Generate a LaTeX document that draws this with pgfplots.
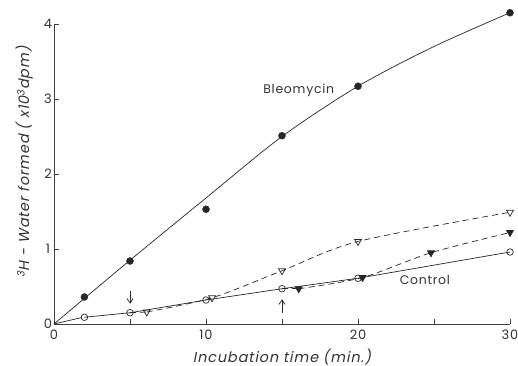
\documentclass[border=0pt]{standalone}
\usepackage{pgfplots}
\pgfplotsset{compat=1.18}
\usepackage{fontspec}
\setmainfont{Poppins}[AutoFakeSlant=0.2]
\newfontfamily\lsfont{Poppins}[LetterSpace=6, AutoFakeSlant=0.2]
\usetikzlibrary{calc,arrows.meta}
\begin{document}
\begin{tikzpicture}
\begin{axis}[name=ax, scale only axis, width=456bp, height=300bp,
  xmin=0, xmax=30, ymin=0, ymax=4,
  axis x line*=bottom, axis y line*=left,
  axis line style={black!75, line width=0.7bp},
  xtick={0,10,20,30}, minor xtick={5,15,25},
  ytick={0,1,2,3,4},
  tick align=inside, major tick length=5bp, minor tick length=5bp,
  tick style={black!75, line width=0.6bp},
  clip=false,
  /pgf/number format/assume math mode=true,
  tick label style={font=\lsfont\fontsize{13}{13}\selectfont, text=black!80},
  xticklabel style={anchor=center, yshift=-11bp},
  yticklabel style={anchor=center, xshift=-6bp},
  xlabel={\itshape Incubation time (min.)},
  ylabel={\itshape \textsuperscript{3}H - Water formed ( x10\textsuperscript{3}dpm)},
  label style={font=\lsfont\fontsize{14.5}{14.5}\selectfont, text=black!80},
  xlabel style={at={(rel axis cs:0.5,0)}, anchor=center, yshift=-33bp},
  ylabel style={at={(rel axis cs:0,0.54)}, anchor=center, yshift=29bp},
]
% Bleomycin curve and points
\addplot[black!85, line width=0.7bp, smooth, no marks] coordinates {
  (0,0) (5,0.85) (10,1.68) (15,2.5) (20,3.17) (25,3.70) (30,4.15)};
\addplot[only marks, mark=*, mark size=3.5bp, black!85] coordinates {
  (2,0.36) (5,0.84) (10,1.53) (15,2.51) (20,3.17) (30,4.15)};
% open triangles, dashed
\addplot[black!85, line width=0.7bp, dash pattern=on 6bp off 4bp, smooth,
  mark=triangle, mark size=4bp, mark options={solid, rotate=180, fill=white}] coordinates {
  (6.1,0.16) (10.4,0.35) (15,0.71) (20,1.1) (30,1.49)};
\addplot[black!85, line width=0.7bp, dash pattern=on 6bp off 4bp] coordinates {(5,0.15) (6.1,0.16)};
% filled triangles, dashed
\addplot[black!85, line width=0.7bp, dash pattern=on 6bp off 4bp, smooth,
  mark=triangle*, mark size=4bp, mark options={solid, rotate=180}] coordinates {
  (16.1,0.47) (20.3,0.62) (24.8,0.95) (30,1.22)};
\addplot[black!85, line width=0.7bp, dash pattern=on 6bp off 4bp] coordinates {(15,0.47) (16.1,0.47)};
% control
\addplot[black!85, line width=0.7bp, mark=o, mark size=3.3bp,
  mark options={fill=white}] coordinates {
  (2,0.09) (5,0.15) (10,0.32) (15,0.47) (20,0.61) (30,0.96)};
\addplot[black!85, line width=0.7bp, no marks] coordinates {(0,0) (1.8,0.085)};
% arrows
\draw[black!85, line width=0.7bp, -{Straight Barb[length=4.5bp,width=6bp]}] (axis cs:5,0.44) -- (axis cs:5,0.27);
\draw[black!85, line width=0.7bp, -{Straight Barb[length=4.5bp,width=6bp]}] (axis cs:15,0.15) -- (axis cs:15,0.33);
% labels
\node[font=\lsfont\fontsize{12.5}{12.5}\selectfont, text=black!80] at (axis cs:16.1,3.12) {Bleomycin};
\node[font=\lsfont\fontsize{12.5}{12.5}\selectfont, text=black!80] at (axis cs:24.4,0.59) {Control};
\end{axis}
\pgfresetboundingbox
\path[use as bounding box] ($(ax.south west)+(-54bp,-42bp)$) rectangle ($(ax.north east)+(8bp,24bp)$);
\end{tikzpicture}
\end{document}
